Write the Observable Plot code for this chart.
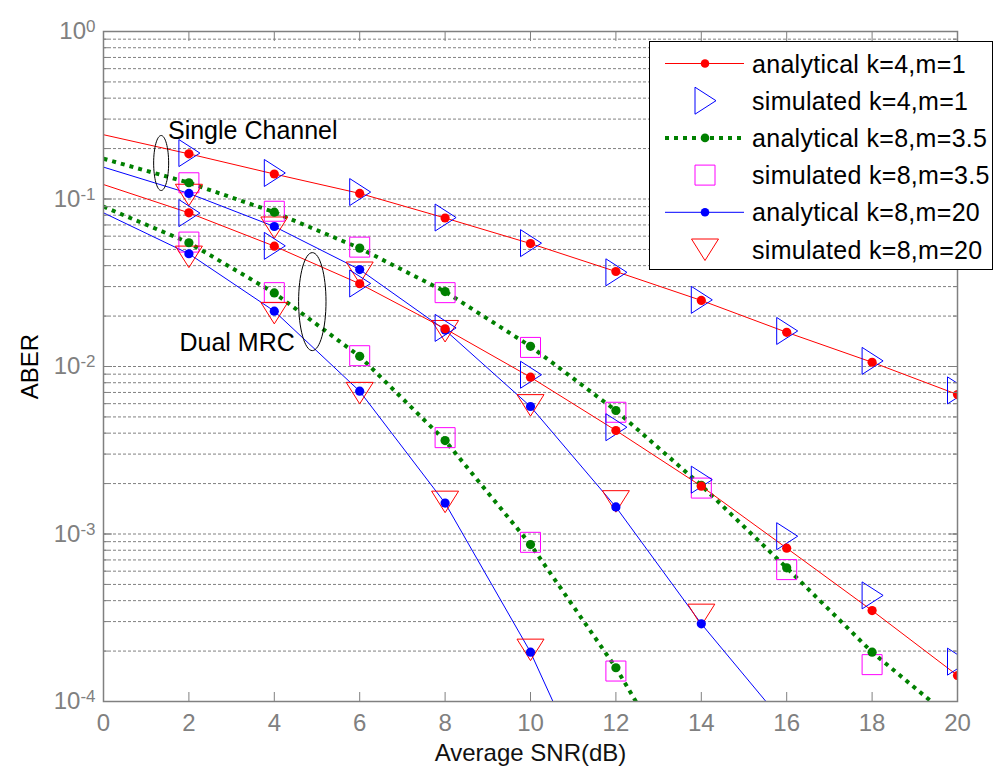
<!DOCTYPE html>
<html>
<head>
<meta charset="utf-8">
<script src="https://cdn.jsdelivr.net/npm/d3@7"></script>
<script src="https://cdn.jsdelivr.net/npm/@observablehq/plot@0.6"></script>
<style>
  body { margin: 0; background: #fff; }
  #wrap { position: relative; width: 997px; height: 769px; font-family: "Liberation Sans", Arial, sans-serif; }
  #legend { position: absolute; left: 649px; top: 41px; width: 344px; height: 229px; box-sizing: border-box; border: 1px solid #000; background: #fff; }
  #legend svg { display: block; }
</style>
</head>
<body>
<div id="wrap"></div>
<script>
// ---------- data ----------
const snr = [0, 2, 4, 6, 8, 10, 12, 14, 16, 18, 20];
const xTicks = [0, 2, 4, 6, 8, 10, 12, 14, 16, 18, 20];
const yMajorTicks = [1e-4, 1e-3, 1e-2, 1e-1, 1];

const legendLabels = [
  "analytical k=4,m=1",
  "simulated k=4,m=1",
  "analytical k=8,m=3.5",
  "simulated k=8,m=3.5",
  "analytical k=8,m=20",
  "simulated k=8,m=20"
];

// analytical curves (start at 0 dB)
const anaK4m1Single  = [0.242, 0.186, 0.141, 0.108, 0.077, 0.0542, 0.0369, 0.0248, 0.0160, 0.0106, 0.0068];
const anaK4m1Dual    = [0.122, 0.0827, 0.0523, 0.0312, 0.0168, 0.00863, 0.00415, 0.00193, 0.000823, 0.000349, 0.000143];
const anaK8m35Single = [0.174, 0.125, 0.0834, 0.0509, 0.0280, 0.0132, 0.00546, 0.00195, 0.000628, 0.000197, 0.000074];
const anaK8m35Dual   = [0.090, 0.0548, 0.0275, 0.0115, 0.00361, 0.000865, 0.000159, 0.000022];
const anaK8m20Single = [0.155, 0.108, 0.0685, 0.0379, 0.0165, 0.00577, 0.00145, 0.000291, 0.000071];
const anaK8m20Dual   = [0.0827, 0.0471, 0.0214, 0.00712, 0.00153, 0.000197, 0.000015];

// simulated points (start at 2 dB)
const simK4m1Single  = [0.188, 0.143, 0.110, 0.0775, 0.0545, 0.0365, 0.0250, 0.0163, 0.0108, 0.0072];
const simK4m1Dual    = [0.0824, 0.0525, 0.0313, 0.0170, 0.00893, 0.00434, 0.00211, 0.00097, 0.00043, 0.000173];
const simK8m35Single = [0.125, 0.0845, 0.0516, 0.0276, 0.0130, 0.00533, 0.00188, 0.000613, 0.000166];
const simK8m35Dual   = [0.0553, 0.0276, 0.0116, 0.00376, 0.000892, 0.000152];
const simK8m20Single = [0.106, 0.0676, 0.0364, 0.0163, 0.00588, 0.00157, 0.00033];
const simK8m20Dual   = [0.0453, 0.0209, 0.00696, 0.00156, 0.000204];

// annotations
const annotationText = ["Single Channel", "Dual MRC"];
const annotationSnr  = [1.51, 1.78];
const annotationAber = [0.256, 0.0138];
const ellipseSnr  = [1.35, 4.89];
const ellipseAber = [0.164, 0.0244];

// ---------- helpers ----------
const RED = "#ff0000", BLUE = "#0000ff", GREEN = "#008000", MAGENTA = "#ff00ff", GRAY = "#808080";
const rows = (vals, start) => vals.map((v, i) => ({snr: snr[start + i], aber: v}));

const triRight = {draw(c) { c.moveTo(-10, -13.5); c.lineTo(11, 0); c.lineTo(-10, 13.5); c.closePath(); }};
const triDown  = {draw(c) { c.moveTo(-13.5, -10.5); c.lineTo(13.5, -10.5); c.lineTo(0, 11); c.closePath(); }};
const square   = {draw(c) { c.moveTo(-10, -10); c.lineTo(10, -10); c.lineTo(10, 10); c.lineTo(-10, 10); c.closePath(); }};
const ellipseSym = (rx, ry) => ({draw(c) {
  const k = 0.5523;
  c.moveTo(rx, 0);
  c.bezierCurveTo(rx, ry * k, rx * k, ry, 0, ry);
  c.bezierCurveTo(-rx * k, ry, -rx, ry * k, -rx, 0);
  c.bezierCurveTo(-rx, -ry * k, -rx * k, -ry, 0, -ry);
  c.bezierCurveTo(rx * k, -ry, rx, -ry * k, rx, 0);
  c.closePath();
}});

const yGrid = d3.scaleLog().domain([1e-4, 1]).ticks();

const lineStyles = {
  k4m1:  {stroke: RED, strokeWidth: 1},
  k8m35: {stroke: GREEN, strokeWidth: 4, strokeDasharray: "4,5", strokeLinecap: "butt"},
  k8m20: {stroke: BLUE, strokeWidth: 1}
};

const anaLine = (vals, st) => Plot.line(rows(vals, 0), {x: "snr", y: "aber", ...st, clip: true});
const anaDot = (vals, color) => Plot.dot(rows(vals, 0).filter(d => d.snr > 0), {x: "snr", y: "aber", r: 4.6, fill: color, stroke: "none", clip: true});
const simDot = (vals, sym, color) => Plot.dot(rows(vals, 1), {x: "snr", y: "aber", symbol: sym, r: 5, stroke: color, strokeWidth: 1, fill: "none", clip: true});

const annRows = annotationText.map((t, i) => ({label: t, snr: annotationSnr[i], aber: annotationAber[i]}));
const ellRows = ellipseSnr.map((s, i) => ({snr: s, aber: ellipseAber[i]}));

const plot = Plot.plot({
  width: 997,
  height: 769,
  marginLeft: 103,
  marginRight: 40,
  marginTop: 31,
  marginBottom: 68,
  style: {fontFamily: '"Liberation Sans", Arial, sans-serif', fontSize: "24px", background: "#fff", overflow: "visible"},
  x: {domain: [0, 20]},
  y: {type: "log", domain: [1e-4, 1]},
  marks: [
    Plot.gridY(yGrid, {stroke: GRAY, strokeOpacity: 1, strokeWidth: 1, strokeDasharray: "3,2"}),
    // analytical lines
    anaLine(anaK8m35Single, lineStyles.k8m35),
    anaLine(anaK8m35Dual, lineStyles.k8m35),
    anaLine(anaK8m20Single, lineStyles.k8m20),
    anaLine(anaK8m20Dual, lineStyles.k8m20),
    anaLine(anaK4m1Single, lineStyles.k4m1),
    anaLine(anaK4m1Dual, lineStyles.k4m1),
    // simulated markers
    simDot(simK8m35Single, square, MAGENTA),
    simDot(simK8m35Dual, square, MAGENTA),
    simDot(simK8m20Single, triDown, RED),
    simDot(simK8m20Dual, triDown, RED),
    simDot(simK4m1Single, triRight, BLUE),
    simDot(simK4m1Dual, triRight, BLUE),
    // analytical markers
    anaDot(anaK8m35Single, GREEN),
    anaDot(anaK8m35Dual, GREEN),
    anaDot(anaK8m20Single, BLUE),
    anaDot(anaK8m20Dual, BLUE),
    anaDot(anaK4m1Single, RED),
    anaDot(anaK4m1Dual, RED),
    // annotations
    Plot.dot(ellRows.slice(0, 1), {x: "snr", y: "aber", symbol: ellipseSym(7.5, 27.5), r: 5, stroke: "#000", strokeWidth: 1, fill: "none"}),
    Plot.dot(ellRows.slice(1, 2), {x: "snr", y: "aber", symbol: ellipseSym(13.7, 49), r: 5, stroke: "#000", strokeWidth: 1, fill: "none"}),
    Plot.text(annRows, {x: "snr", y: "aber", text: "label", textAnchor: "start", fontSize: 25, fill: "#000"}),
    // frame and axes
    Plot.frame({stroke: GRAY, strokeWidth: 1.5}),
    Plot.axisY({anchor: "left", ticks: yGrid, tickSize: -5, tickFormat: () => "", label: null, color: GRAY}),
    Plot.axisY({anchor: "right", ticks: yGrid, tickSize: -5, tickFormat: () => "", label: null, color: GRAY}),
    Plot.axisY({anchor: "left", ticks: yMajorTicks, tickSize: -9, tickFormat: () => "", label: null, color: GRAY}),
    Plot.axisY({anchor: "right", ticks: yMajorTicks, tickSize: -9, tickFormat: () => "", label: null, color: GRAY}),
    Plot.axisX({anchor: "bottom", ticks: xTicks, tickSize: -9, tickFormat: () => "", label: null, color: GRAY}),
    Plot.axisX({anchor: "top", ticks: xTicks, tickSize: -9, tickFormat: () => "", label: null, color: GRAY}),
    Plot.axisY({anchor: "left", ticks: yMajorTicks, tickSize: 0, tickPadding: 8, fontSize: 24,
      tickFormat: d => String(Math.round(Math.log10(d))), label: null, color: GRAY}),
    Plot.axisX({anchor: "bottom", ticks: xTicks, tickSize: 0, tickPadding: 12, fontSize: 24,
      tickFormat: d => String(d), label: null, color: GRAY}),
    Plot.text(["ABER"], {text: d => d, frameAnchor: "left", dx: -73, rotate: -90, textAnchor: "middle", lineAnchor: "middle", fontSize: 24, fill: "#000"}),
    Plot.text(["Average SNR(dB)"], {text: d => d, frameAnchor: "bottom", dy: 52, textAnchor: "middle", lineAnchor: "middle", fontSize: 24, fill: "#111"})
  ]
});

// superscript y tick labels: 10^k
d3.select(plot).selectAll('g[aria-label="y-axis tick label"] text').each(function() {
  const e = this.textContent;
  if (!e) return;
  const t = d3.select(this);
  t.text("");
  t.append("tspan").text("10");
  t.append("tspan").attr("dy", "-0.42em").attr("font-size", "17px").text(e);
});

const wrap = document.getElementById("wrap");
wrap.appendChild(plot);

// ---------- legend ----------
const legendItems = [
  {label: legendLabels[0], line: lineStyles.k4m1, dot: RED},
  {label: legendLabels[1], symbol: triRight, color: BLUE},
  {label: legendLabels[2], line: lineStyles.k8m35, dot: GREEN},
  {label: legendLabels[3], symbol: square, color: MAGENTA},
  {label: legendLabels[4], line: lineStyles.k8m20, dot: BLUE},
  {label: legendLabels[5], symbol: triDown, color: RED}
];
const legend = d3.select(wrap).append("div").attr("id", "legend");
const ls = legend.append("svg").attr("width", 342).attr("height", 227);
legendItems.forEach((it, i) => {
  const cy = 21.5 + i * 37.2;
  const g = ls.append("g").attr("transform", `translate(0,${cy})`);
  if (it.line) {
    g.append("line").attr("x1", 15).attr("x2", 94).attr("y1", 0).attr("y2", 0)
      .attr("stroke", it.line.stroke).attr("stroke-width", it.line.strokeWidth)
      .attr("stroke-dasharray", it.line.strokeDasharray || null)
      .attr("stroke-linecap", it.line.strokeLinecap || null);
    g.append("circle").attr("cx", 55).attr("cy", 0).attr("r", 4.3).attr("fill", it.dot);
  } else {
    g.append("path").attr("transform", "translate(55,0)")
      .attr("d", d3.symbol().type(it.symbol)())
      .attr("fill", "none").attr("stroke", it.color).attr("stroke-width", 1);
  }
  g.append("text").attr("x", 102).attr("y", 0).attr("dy", "0.36em")
    .attr("font-family", '"Liberation Sans", Arial, sans-serif')
    .attr("font-size", 25).attr("letter-spacing", "0.3px").attr("fill", "#000")
    .text(it.label);
});
</script>
</body>
</html>
